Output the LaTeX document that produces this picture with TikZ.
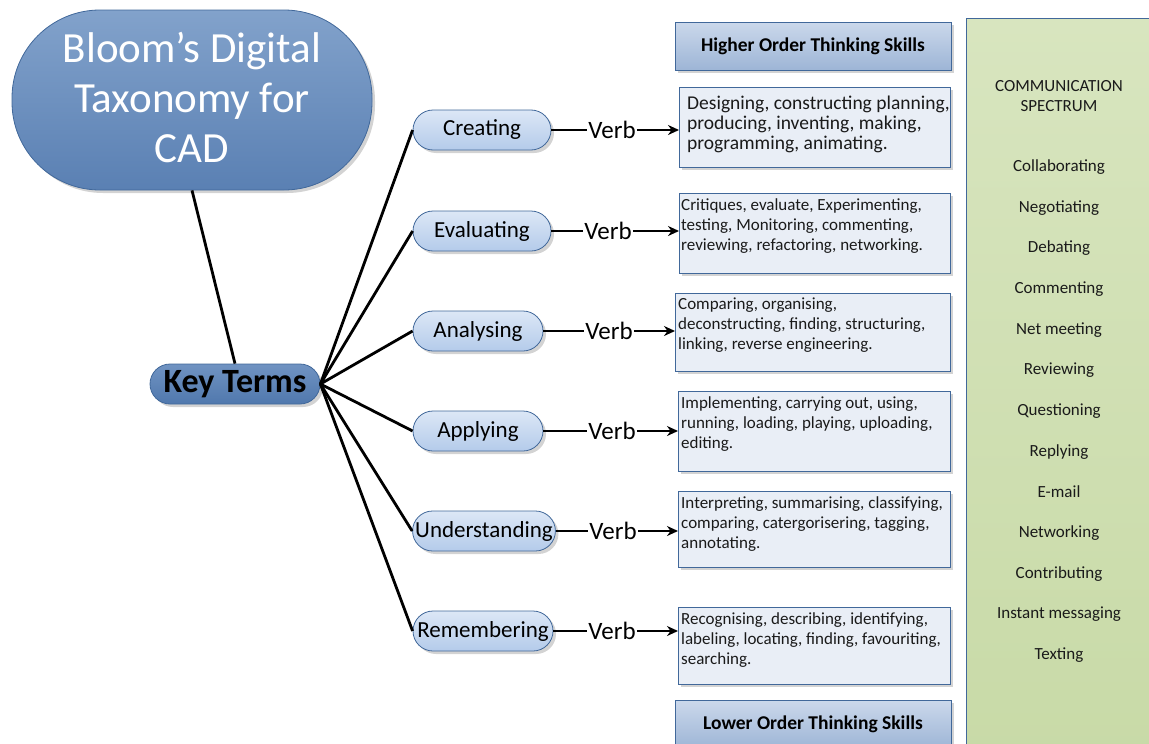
\documentclass[tikz,border=0pt]{standalone}
\usepackage{fontspec}
\setmainfont{Carlito}
\usetikzlibrary{arrows.meta,shadows,shapes.misc}
\definecolor{bordblue}{HTML}{41689A}
\definecolor{titletop}{HTML}{82A2CB}
\definecolor{titlebot}{HTML}{5A80B3}
\definecolor{kttop}{HTML}{7093C2}
\definecolor{ktbot}{HTML}{5078AD}
\definecolor{brtop}{HTML}{DCE7F6}
\definecolor{brbot}{HTML}{B4CBEA}
\definecolor{boxfill}{HTML}{E9EEF6}
\definecolor{hotop}{HTML}{CBD8EB}
\definecolor{hobot}{HTML}{9DB5D6}
\definecolor{grtop}{HTML}{D8E5BF}
\definecolor{grbot}{HTML}{C8DAA7}
\definecolor{txtgray}{HTML}{1A1A1A}
\begin{document}
\begin{tikzpicture}[x=1pt,y=-1pt,
  conn/.style={line width=2.8pt, black},
  arr/.style={conn,-{Stealth[length=11pt,width=10pt]}},
  shad/.style={drop shadow={shadow xshift=3pt,shadow yshift=-3pt,opacity=0.35,fill=gray}},
  branch/.style={rounded rectangle, draw=bordblue, line width=0.8pt, top color=brtop, bottom color=brbot, minimum height=40pt, inner sep=0pt, font=\fontsize{23}{27}\selectfont, shad},
  verb/.style={inner sep=1pt, font=\fontsize{25}{29}\selectfont},
  vbox/.style={draw=bordblue, line width=0.8pt, fill=boxfill, anchor=north west, inner sep=0pt, shad},
  vtxt/.style={anchor=north west, inner sep=0pt, align=left, text=txtgray, font=\fontsize{17}{20}\selectfont},
  hobox/.style={draw=bordblue, line width=0.8pt, top color=hotop, bottom color=hobot, minimum width=276pt, minimum height=48pt, inner sep=0pt, font=\bfseries\fontsize{19.5}{23}\selectfont, shad},
  comm/.style={font=\fontsize{17}{20}\selectfont, text=txtgray, inner sep=0pt}
]
\useasboundingbox (0,0) rectangle (1149,744);
\clip (0,0) rectangle (1149,744);

% communication spectrum
\node[draw=bordblue, line width=0.8pt, top color=grtop, bottom color=grbot, anchor=north west, minimum width=190pt, minimum height=740pt, inner sep=0pt] (spec) at (966,18) {};
\node[comm, align=center, font=\fontsize{17}{20}\selectfont] (spectitle) at (1059,96) {COMMUNICATION\\SPECTRUM};
\node[comm] (c1) at (1059,167) {Collaborating};
\node[comm] (c2) at (1059,208) {Negotiating};
\node[comm] (c3) at (1059,248) {Debating};
\node[comm] (c4) at (1059,289) {Commenting};
\node[comm] (c5) at (1059,330) {Net meeting};
\node[comm] (c6) at (1059,370) {Reviewing};
\node[comm] (c7) at (1059,411) {Questioning};
\node[comm] (c8) at (1059,452) {Replying};
\node[comm] (c9) at (1059,492) {E-mail};
\node[comm] (c10) at (1059,533) {Networking};
\node[comm] (c11) at (1059,574) {Contributing};
\node[comm] (c12) at (1059,614) {Instant messaging};
\node[comm] (c13) at (1059,655) {Texting};

% higher / lower order
\node[hobox] (hots) at (813,46) {Higher Order Thinking Skills};
\node[hobox, anchor=north] (lots) at (813,700) {Lower Order Thinking Skills};

% title
\node[draw=bordblue, line width=0.8pt, top color=titletop, bottom color=titlebot, rounded corners=88pt, minimum width=360pt, minimum height=180pt, inner sep=0pt, align=center, text=white, font=\fontsize{43}{50}\selectfont, shad] (title) at (192,100) {Bloom’s Digital\\Taxonomy for\\CAD\vspace{6pt}};

% key terms
\node[rounded rectangle, draw=bordblue, line width=0.8pt, top color=kttop, bottom color=ktbot, minimum width=170pt, minimum height=40pt, inner sep=0pt, font=\bfseries\fontsize{34}{38}\selectfont, shad] (kt) at (235,384) {Key Terms};

% branches
\node[branch, minimum width=138pt] (b1) at (482,130) {Creating};
\node[branch, minimum width=138pt] (b2) at (482,231) {Evaluating};
\node[branch, minimum width=130pt] (b3) at (478,331) {Analysing};
\node[branch, minimum width=130pt] (b4) at (478,431) {Applying};
\node[branch, minimum width=142pt] (b5) at (484,531) {Understanding};
\node[branch, minimum width=140pt] (b6) at (483,631) {Remembering};

% verbs
\node[verb] (v1) at (612,130) {Verb};
\node[verb] (v2) at (608,231) {Verb};
\node[verb] (v3) at (609,331) {Verb};
\node[verb] (v4) at (612,431) {Verb};
\node[verb] (v5) at (613,531) {Verb};
\node[verb] (v6) at (612,631) {Verb};

% verb boxes
\node[vbox, minimum width=271pt, minimum height=80pt] (x1) at (679,87) {};
\node[vtxt, font=\fontsize{19.5}{20}\selectfont] (t1) at (687,96) {Designing, constructing planning,\\producing, inventing, making,\\programming, animating.};
\node[vbox, minimum width=271pt, minimum height=80pt] (x2) at (679,193) {};
\node[vtxt] (t2) at (681,198) {Critiques, evaluate, Experimenting,\\testing, Monitoring, commenting,\\reviewing, refactoring, networking.};
\node[vbox, minimum width=275pt, minimum height=78pt] (x3) at (675,293) {};
\node[vtxt] (t3) at (678,298) {Comparing, organising,\\deconstructing, finding, structuring,\\linking, reverse engineering.};
\node[vbox, minimum width=272pt, minimum height=80pt] (x4) at (678,391) {};
\node[vtxt] (t4) at (681,396) {Implementing, carrying out, using,\\running, loading, playing, uploading,\\editing.};
\node[vbox, minimum width=272pt, minimum height=76pt] (x5) at (678,491) {};
\node[vtxt] (t5) at (681,496) {Interpreting, summarising, classifying,\\comparing, catergorisering, tagging,\\annotating.};
\node[vbox, minimum width=272pt, minimum height=77pt] (x6) at (678,607) {};
\node[vtxt] (t6) at (681,612) {Recognising, describing, identifying,\\labeling, locating, finding, favouriting,\\searching.};

% connectors
\draw[conn] (title.south) -- (kt.north);
\foreach \i in {1,...,6} {
  \draw[conn] (kt.east) -- (b\i.west);
  \draw[conn] (b\i.east) -- (v\i.west);
  \draw[arr] (v\i.east) -- (v\i.east -| x\i.west);
}
\end{tikzpicture}
\end{document}
